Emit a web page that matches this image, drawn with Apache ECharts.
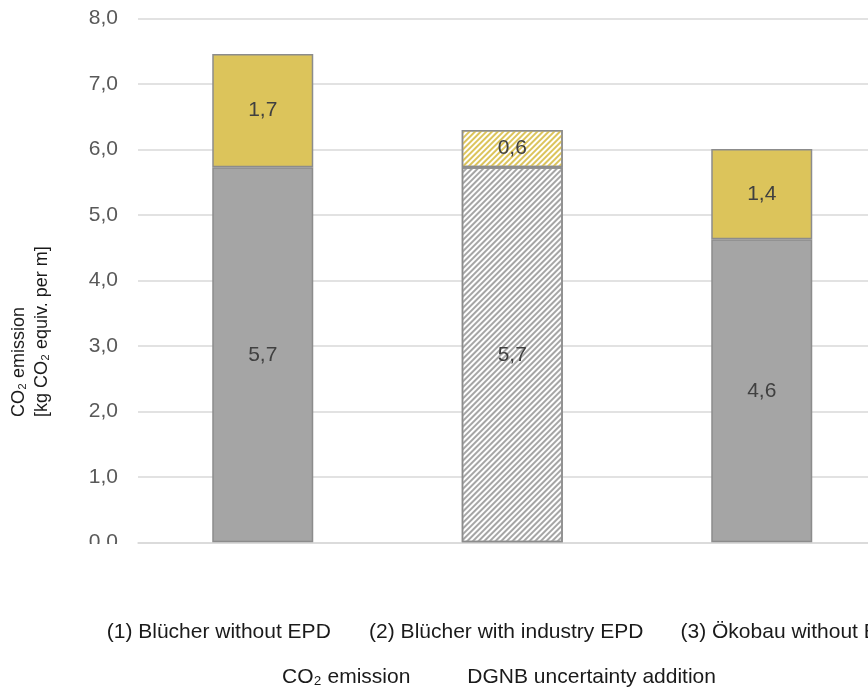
<!DOCTYPE html>
<html>
<head>
<meta charset="utf-8">
<script src="https://cdn.jsdelivr.net/npm/echarts@6/dist/echarts.min.js"></script>
<style>
html,body{margin:0;padding:0;background:#fff;}
#chart{width:868px;height:692px;}
</style>
</head>
<body>
<div id="chart"></div>
<script>
const categories = ['(1) Blücher without EPD', '(2) Blücher with industry EPD', '(3) Ökobau without EPD'];
const co2Emission = [5.73, 5.73, 4.63];
const dgnbAddition = [1.73, 0.57, 1.38];
const hatched = [false, true, false];
const seriesNames = ['CO₂ emission', 'DGNB uncertainty addition'];
const yTitle = ['CO₂ emission', '[kg CO₂ equiv. per m]'];

const FONT = "'Liberation Sans', Arial, sans-serif";
const GREY = '#a5a5a5';
const GOLD = '#dcc45b';
const BORDER = '#8c8c8c';

function fmt(v) { return v.toFixed(1).replace('.', ','); }

function hatchDecal(color) {
  return { symbol: 'rect', symbolSize: 1, dashArrayX: [1, 0], dashArrayY: [2, 2], rotation: -Math.PI / 4, color: color };
}

function build(values, color) {
  return values.map((v, i) => hatched[i]
    ? { value: v, itemStyle: { color: '#ffffff', decal: hatchDecal(color) } }
    : v);
}

const chart = echarts.init(document.getElementById('chart'), null, { renderer: 'canvas' });

const labelCfg = {
  show: true, position: 'inside', color: '#404040', fontSize: 21, fontFamily: FONT,
  formatter: p => fmt(p.value)
};

chart.setOption({
  backgroundColor: '#ffffff',
  animation: false,
  textStyle: { fontFamily: FONT },
  grid: [
    { left: 138, top: 18.7, right: -18.5, height: 523.6, outerBoundsMode: 'none', containLabel: false },
    { left: 75, top: 590, right: -69.5, height: 20, outerBoundsMode: 'none', containLabel: false }
  ],
  xAxis: [
    {
      type: 'category', gridIndex: 0, data: categories,
      axisLine: { show: true, lineStyle: { color: '#d9d9d9', width: 1.5 } },
      axisTick: { show: false }, axisLabel: { show: false }
    },
    {
      type: 'category', gridIndex: 1, data: categories,
      axisLine: { show: false }, axisTick: { show: false },
      axisLabel: { show: true, margin: 12, color: '#1a1a1a', fontSize: 21, fontFamily: FONT, interval: 0 }
    }
  ],
  yAxis: [
    {
      type: 'value', gridIndex: 0, min: 0, max: 8, interval: 1,
      axisLine: { show: false }, axisTick: { show: false },
      splitLine: { show: true, lineStyle: { color: '#d9d9d9', width: 1.5 } },
      axisLabel: { color: '#595959', fontSize: 21, fontFamily: FONT, margin: 20, formatter: v => fmt(v) }
    },
    { type: 'value', gridIndex: 1, min: 0, max: 1, show: false }
  ],
  legend: {
    left: 258, top: 662, itemGap: 38, itemWidth: 14, itemHeight: 14,
    icon: 'rect',
    itemStyle: { color: 'transparent', borderColor: 'transparent', borderWidth: 0, decal: 'none' },
    textStyle: { color: '#1a1a1a', fontSize: 21, fontFamily: FONT },
    data: seriesNames
  },
  series: [
    {
      name: seriesNames[0], type: 'bar', stack: 'total', barWidth: 101,
      xAxisIndex: 0, yAxisIndex: 0,
      itemStyle: { color: GREY, borderColor: BORDER, borderWidth: 1.5 },
      label: labelCfg,
      data: build(co2Emission, GREY)
    },
    {
      name: seriesNames[1], type: 'bar', stack: 'total', barWidth: 101,
      xAxisIndex: 0, yAxisIndex: 0,
      itemStyle: { color: GOLD, borderColor: BORDER, borderWidth: 1.5 },
      label: labelCfg,
      data: build(dgnbAddition, GOLD)
    }
  ],
  graphic: [
    {
      type: 'rect', z: 100, left: 0, top: 544,
      shape: { x: 0, y: 0, width: 868, height: 50 },
      style: { fill: '#ffffff' }
    },
    {
      type: 'text', z: 100, x: 30.5, y: 417, rotation: Math.PI / 2,
      style: {
        text: yTitle.join('\n'), fill: '#1a1a1a', fontSize: 18, fontFamily: FONT, lineHeight: 23,
        align: 'left', verticalAlign: 'middle', textAlign: 'left', textVerticalAlign: 'middle'
      }
    }
  ]
});
</script>
</body>
</html>
